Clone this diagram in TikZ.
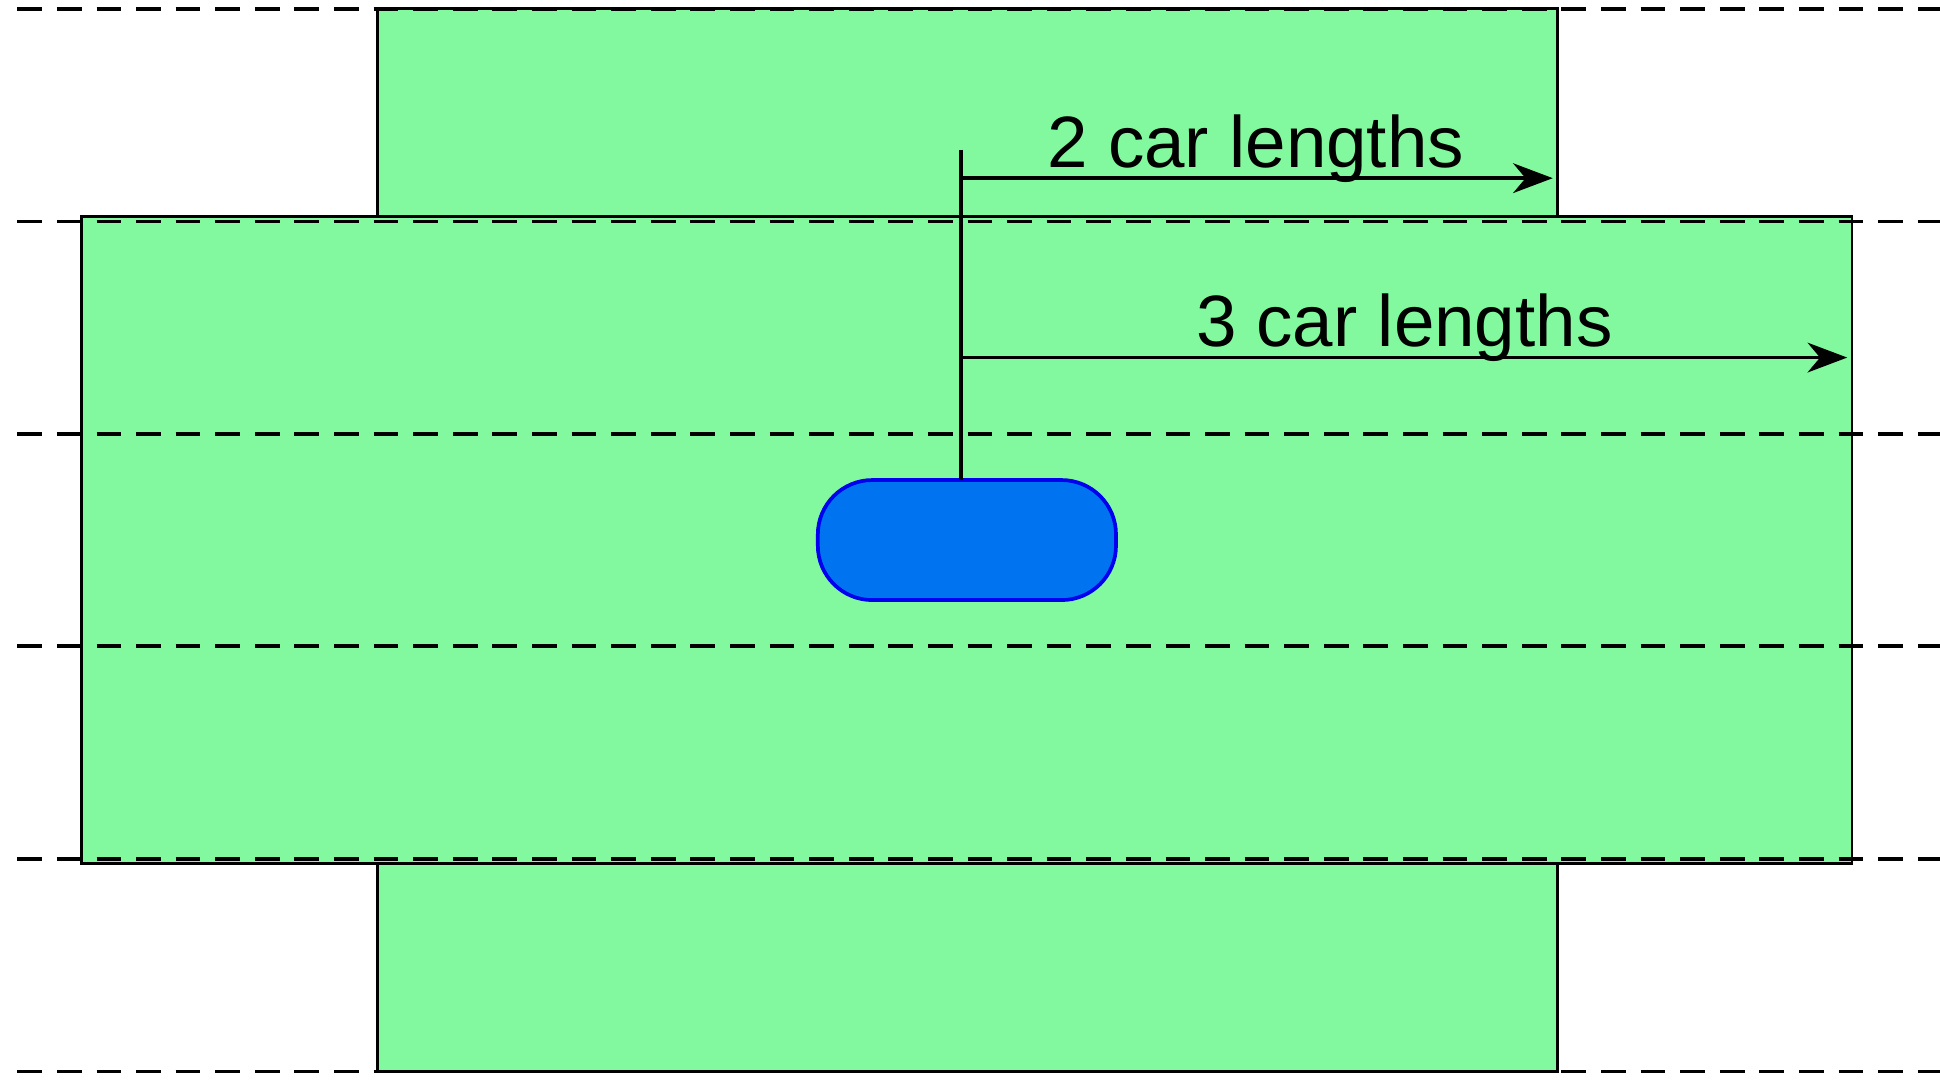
\documentclass[tikz,border=0pt]{standalone}
\usepackage{fontspec}
\setmainfont{Liberation Sans}
\usetikzlibrary{arrows.meta}
\begin{document}
\begin{tikzpicture}[x=0.5pt,y=-0.5pt,
  zone/.style={draw=black,line width=1pt,fill=green!50!white,fill=zonegreen},
  lane/.style={line width=1.5pt,dash pattern=on 10pt off 6pt},
  meas/.style={line width=1.5pt,-{Stealth[length=16pt,width=12pt,inset=5pt]}},
  lbl/.style={font=\fontsize{29.4}{35}\selectfont,inner sep=0pt}]
\definecolor{zonegreen}{HTML}{82F99E}
\definecolor{carfill}{HTML}{0074F0}
\definecolor{carline}{HTML}{0000EE}
\useasboundingbox (0,0) rectangle (1568,873);
\path[zone] (305,7) rectangle (1259,866);
\path[zone] (66,175) rectangle (1497,698);
\foreach \y in {7,179,351,522,694,866} \draw[lane] (14,\y) -- (1568,\y);
\node[draw=carline,fill=carfill,line width=1.5pt,rounded corners=22pt,minimum width=120.5pt,minimum height=48.5pt,inner sep=0pt] (car) at (781.5,436.5) {};
\coordinate (top) at (777,121);
\coordinate (base) at (777,388);
\coordinate (s2) at (777,144);
\coordinate (e2) at (1255,144);
\coordinate (s3) at (777,289);
\coordinate (e3) at (1493,289);
\draw[line width=1.5pt] (top) -- (base);
\draw[meas] (s2) -- (e2);
\draw[meas] (s3) -- (e3);
\node[lbl] (l2) at (1015,120) {2 car lengths};
\node[lbl] (l3) at (1135,265) {3 car lengths};
\end{tikzpicture}
\end{document}
